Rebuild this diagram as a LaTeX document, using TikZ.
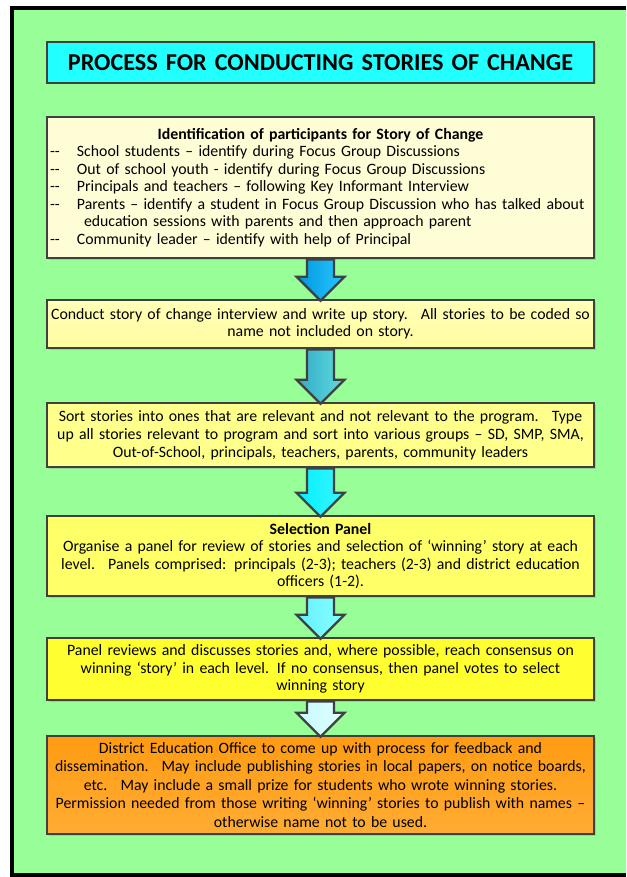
\documentclass[tikz,border=0pt]{standalone}
\usepackage{fontspec}
\setmainfont{Carlito}
\usetikzlibrary{calc,shadows}

\definecolor{framegreen}{RGB}{152,255,152}
\definecolor{boxline}{RGB}{64,64,64}
\definecolor{titlecyan}{RGB}{34,255,255}
\definecolor{creamA}{RGB}{255,253,213}
\definecolor{yelA}{RGB}{255,255,184}
\definecolor{yelB}{RGB}{255,252,160}
\definecolor{yelC}{RGB}{255,255,140}
\definecolor{yelD}{RGB}{255,255,104}
\definecolor{yelE}{RGB}{255,255,48}
\definecolor{orgA}{RGB}{255,155,18}
\definecolor{orgB}{RGB}{255,172,52}
\definecolor{arrAL}{RGB}{0,150,220}
\definecolor{arrAR}{RGB}{40,200,255}
\definecolor{arrBL}{RGB}{50,170,200}
\definecolor{arrBR}{RGB}{95,220,220}
\definecolor{arrCL}{RGB}{0,240,255}
\definecolor{arrCR}{RGB}{60,245,255}
\definecolor{arrDL}{RGB}{100,240,255}
\definecolor{arrDR}{RGB}{135,255,255}
\definecolor{arrEL}{RGB}{200,250,255}
\definecolor{arrER}{RGB}{222,255,255}

% downward block arrow from the bottom of one box to the top of the next
\newcommand\stepdown[4]{%
  \path[flowarrow, left color=#3, right color=#4]
    ($(#1.south)+(-13.5pt,0)$) -- ($(#2.north)+(-13.5pt,22pt)$)
    -- ($(#2.north)+(-24pt,22pt)$) -- ($(#2.north)+(0,-2pt)$)
    -- ($(#2.north)+(24pt,22pt)$) -- ($(#2.north)+(13.5pt,22pt)$)
    -- ($(#1.south)+(13.5pt,0)$) -- cycle;}

\newcommand\dashitem{\makebox[27pt][l]{-{}-}}

\begin{document}
\begin{tikzpicture}[x=1pt,y=-1pt,
  stepbox/.style={draw=boxline, line width=2.6pt, text width=541pt,
    inner xsep=3pt, inner ysep=0pt, align=center,
    font=\fontsize{15.8}{17.5}\selectfont,
    drop shadow={shadow xshift=1.5pt, shadow yshift=-1.5pt, opacity=0.3}},
  flowarrow/.style={draw=boxline, line width=2.4pt, line join=miter}]

\useasboundingbox (0,0) rectangle (626,877);
% outer frame: open on the right
\fill[framegreen] (12,8) rectangle (626,875);
\draw[line width=4.5pt] (626,8) -- (12,8) -- (12,875) -- (626,875);

% title
\node[stepbox, fill=titlecyan, minimum height=41pt,
  font=\fontsize{24.2}{28}\selectfont\bfseries] (title) at (320.5,62.5)
  {PROCESS FOR CONDUCTING STORIES OF CHANGE};

% step boxes
\node[stepbox, fill=creamA, minimum height=141pt, align=left] (b1) at (320.5,187.5)
  {\makebox[541pt][c]{\textbf{Identification of participants for Story of Change}}\\
   \dashitem School students – identify during Focus Group Discussions\\
   \dashitem Out of school youth - identify during Focus Group Discussions\\
   \dashitem Principals and teachers – following Key Informant Interview\\
   \dashitem Parents – identify a student in Focus Group Discussion who has talked about\\
   \hspace*{34pt}education sessions with parents and then approach parent\\
   \dashitem Community leader – identify with help of Principal};

\node[stepbox, top color=yelA, bottom color=yelB, minimum height=48pt] (b2) at (320.5,324)
  {Conduct story of change interview and write up story.~ All stories to be coded so\\
   name not included on story.};

\node[stepbox, fill=yelC, minimum height=64pt, font=\fontsize{15.8}{18}\selectfont] (b3) at (320.5,435)
  {Sort stories into ones that are relevant and not relevant to the program.~ Type\\
   up all stories relevant to program and sort into various groups – SD, SMP, SMA,\\
   Out-of-School, principals, teachers, parents, community leaders};

\node[stepbox, fill=yelD, minimum height=80pt] (b4) at (320.5,556)
  {\textbf{Selection Panel}\\
   Organise a panel for review of stories and selection of ‘winning’ story at each\\
   level.~ Panels comprised: principals (2-3); teachers (2-3) and district education\\
   officers (1-2).};

\node[stepbox, fill=yelE, minimum height=62pt] (b5) at (320.5,669)
  {Panel reviews and discusses stories and, where possible, reach consensus on\\
   winning ‘story’ in each level. If no consensus, then panel votes to select\\
   winning story};

\node[stepbox, top color=orgA, bottom color=orgB, minimum height=98pt,
  font=\fontsize{15.8}{18.5}\selectfont] (b6) at (320.5,785)
  {District Education Office to come up with process for feedback and\\
   dissemination.~ May include publishing stories in local papers, on notice boards,\\
   etc.~ May include a small prize for students who wrote winning stories.\\
   Permission needed from those writing ‘winning’ stories to publish with names –\\
   otherwise name not to be used.};

% arrows between the steps
\stepdown{b1}{b2}{arrAL}{arrAR}
\stepdown{b2}{b3}{arrBL}{arrBR}
\stepdown{b3}{b4}{arrCL}{arrCR}
\stepdown{b4}{b5}{arrDL}{arrDR}
\stepdown{b5}{b6}{arrEL}{arrER}
\end{tikzpicture}
\end{document}
